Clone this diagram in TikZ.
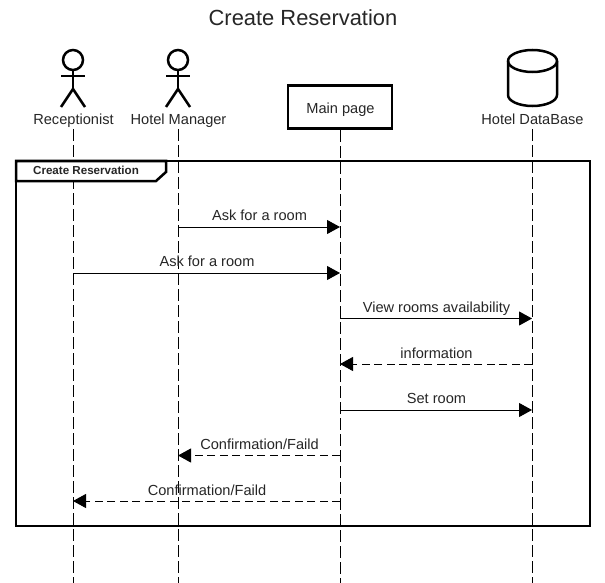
\documentclass[tikz,border=0pt]{standalone}
\usepackage{fontspec}
\setmainfont{Liberation Sans}
\usetikzlibrary{arrows.meta}

\newcommand{\msgfont}{\fontsize{14.6}{16}\selectfont}

\tikzset{
    lifeline/.style={draw=black,line width=1pt,dash pattern=on 12pt off 4pt},
    msg/.style={draw=black,line width=1pt,-{Triangle[length=13pt,width=14pt]}},
    reply/.style={msg,dash pattern=on 8pt off 4.5pt},
    msglabel/.style={font=\msgfont,text=black!85,inner sep=0pt,anchor=base},
    heavy/.style={draw=black,line width=2.5pt},
    actor/.pic={
        \draw[heavy] (0,-47) circle (10);
        \draw[heavy] (0,-37) -- (0,-18);
        \draw[heavy] (-12,-31) -- (12,-31);
        \draw[heavy] (-12,0) -- (0,-18) -- (12,0);
    }
}

\begin{document}
\begin{tikzpicture}[x=1pt,y=-1pt]
    \useasboundingbox (0,0) rectangle (605,583);
    \node[font=\fontsize{21.9}{24}\selectfont,text=black!85,inner sep=0pt,anchor=base] (title) at (303,26) {Create Reservation};

    % participants
    \pic at (73,107) {actor};
    \pic at (178,107) {actor};
    \node[msglabel] (recep) at (73.5,125) {Receptionist};
    \node[msglabel] (manager) at (178.5,125) {Hotel Manager};
    \node[heavy,minimum width=104pt,minimum height=43pt] (mainpage) at (340,107) {};
    \node[msglabel] (mainlabel) at (340.5,114) {Main page};
    \draw[heavy] (508,61) arc (180:360:24.5 and 11) -- (557,95) arc (0:180:24.5 and 11) -- cycle;
    \draw[heavy] (508,61) arc (180:0:24.5 and 11);
    \node[msglabel] (database) at (532.5,125) {Hotel DataBase};

    % lifelines
    \coordinate (recepTop) at (73,129);
    \coordinate (managerTop) at (178,129);
    \coordinate (mainTop) at (340,130);
    \coordinate (dbTop) at (532,129);
    \coordinate (recepEnd) at (73,583);
    \coordinate (managerEnd) at (178,583);
    \coordinate (mainEnd) at (340,583);
    \coordinate (dbEnd) at (532,583);
    \draw[lifeline] (recepTop) -- (recepEnd);
    \draw[lifeline] (managerTop) -- (managerEnd);
    \draw[lifeline] (mainTop) -- (mainEnd);
    \draw[lifeline] (dbTop) -- (dbEnd);

    % frame
    \draw[heavy] (16,161) rectangle (590,526);
    \draw[heavy,fill=white] (16,161) -- (166,161) -- (166,172) -- (156,181) -- (16,181) -- cycle;
    \node[font=\bfseries\fontsize{11.6}{14}\selectfont,text=black!85,inner sep=0pt,anchor=base] (frametitle) at (86,175) {Create Reservation};

    % messages
    \coordinate (a1) at (178,227);
    \coordinate (a2) at (340,227);
    \coordinate (b1) at (73,273);
    \coordinate (b2) at (340,273);
    \coordinate (c1) at (340,318.5);
    \coordinate (c2) at (532,318.5);
    \coordinate (d1) at (532,364);
    \coordinate (d2) at (340,364);
    \coordinate (e1) at (340,410);
    \coordinate (e2) at (532,410);
    \coordinate (f1) at (340,455.5);
    \coordinate (f2) at (178,455.5);
    \coordinate (g1) at (340,501);
    \coordinate (g2) at (73,501);
    \draw[msg] (a1) -- (a2);
    \draw[msg] (b1) -- (b2);
    \draw[msg] (c1) -- (c2);
    \draw[reply] (d1) -- (d2);
    \draw[msg] (e1) -- (e2);
    \draw[reply] (f1) -- (f2);
    \draw[reply] (g1) -- (g2);
    \node[msglabel] (askm) at (259.5,220) {Ask for a room};
    \node[msglabel] (askr) at (207,266) {Ask for a room};
    \node[msglabel] (view) at (436.5,312) {View rooms availability};
    \node[msglabel] (info) at (436.5,358) {information};
    \node[msglabel] (setroom) at (436.5,403) {Set room};
    \node[msglabel] (confm) at (259.5,449) {Confirmation/Faild};
    \node[msglabel] (confr) at (207,495) {Confirmation/Faild};
\end{tikzpicture}
\end{document}
